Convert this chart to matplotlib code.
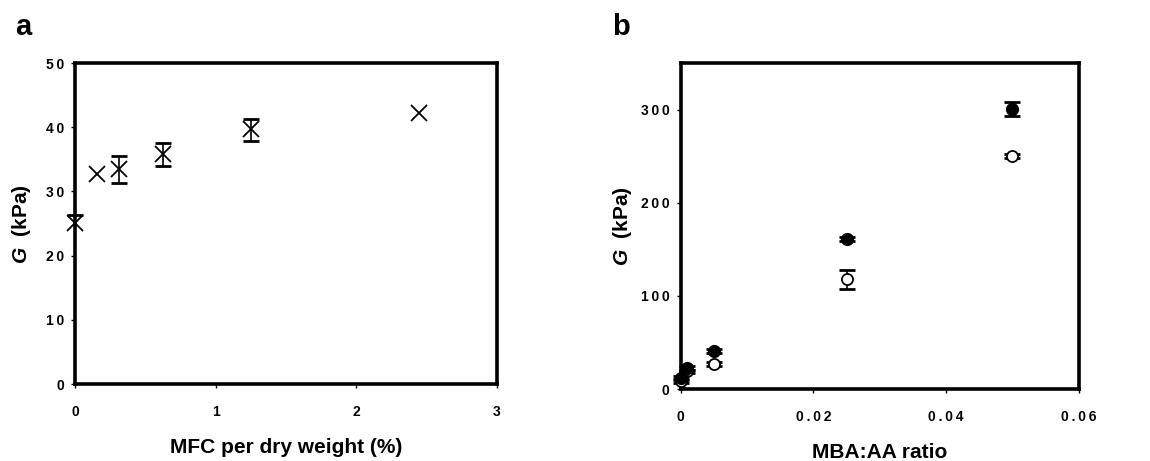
import matplotlib.pyplot as plt

plt.rcParams['font.family'] = ['Liberation Sans', 'DejaVu Sans']
plt.rcParams['font.weight'] = 'bold'
plt.rcParams['mathtext.fontset'] = 'custom'
plt.rcParams['mathtext.it'] = 'Liberation Sans:italic:bold'

# panel a: MFC content
mfc = [0, 0.16, 0.31, 0.625, 1.25, 2.45]
g_mfc = [25.1, 32.8, 33.5, 35.8, 39.7, 42.2]
g_mfc_err_lo = [0, 0, 2.1, 1.9, 1.9, 0]
g_mfc_err_hi = [1.3, 0, 2.0, 1.8, 1.6, 0]

# panel b: crosslinker ratio
ratio = [0, 0.001, 0.005, 0.025, 0.05]
g_filled = [12, 23, 41, 161, 301]
g_filled_err = [2, 2, 2, 2, 7.5]
g_open = [9, 19, 27, 118, 250]
g_open_err = [2, 2, 2, 10, 2]

a_xticks = [0, 1, 2, 3]
a_yticks = [0, 10, 20, 30, 40, 50]
b_xticks = [0, 0.02, 0.04, 0.06]
b_xlabels = ['0', '0.02', '0.04', '0.06']
b_yticks = [0, 100, 200, 300]


def spaced(s):
    # the original tick labels are letter-spaced
    return '\u2009'.join(s)


fig = plt.figure(figsize=(11.5, 4.61), dpi=100)
ax1 = fig.add_axes([0.0652, 0.167, 0.3668, 0.696])
ax2 = fig.add_axes([0.592, 0.156, 0.346, 0.707])


def style_axes(ax):
    for sp in ax.spines.values():
        sp.set_linewidth(2.6)
    ax.tick_params(direction='out', length=3, width=1, labelsize=10)
    ax.tick_params(axis='x', pad=12)
    ax.tick_params(axis='y', pad=5)
    for lab in ax.get_xticklabels() + ax.get_yticklabels():
        lab.set_fontweight('bold')


err_kw = dict(fmt='none', ecolor='black', elinewidth=1.2, capsize=5.5,
              capthick=2, clip_on=False, zorder=2)

# only the points whose error bars show; a one-sided bar hides its lower cap
for x, y, lo, hi in zip(mfc, g_mfc, g_mfc_err_lo, g_mfc_err_hi):
    if lo == 0 and hi == 0:
        continue
    _, caps, _ = ax1.errorbar([x], [y], yerr=[[lo], [hi]], **err_kw)
    if lo == 0:
        caps[0].set_visible(False)
ax1.plot(mfc, g_mfc, 'x', color='black', markersize=11, markeredgewidth=1.3,
         clip_on=False, zorder=3)
ax1.set_xlim(0, 3)
ax1.set_ylim(0, 50)
ax1.set_xticks(a_xticks)
ax1.set_xticklabels([spaced(str(t)) for t in a_xticks])
ax1.set_yticks(a_yticks)
ax1.set_yticklabels([spaced(str(t)) for t in a_yticks])
ax1.set_xlabel('MFC per dry weight (%)', fontsize=15, fontweight='bold', labelpad=14)
ax1.set_ylabel('$G$  (kPa)', fontsize=15, fontweight='bold', labelpad=9)
style_axes(ax1)

ax2.errorbar(ratio, g_open, yerr=g_open_err, **err_kw)
ax2.plot(ratio, g_open, 'o', markerfacecolor='white', markeredgecolor='black',
         markersize=8, markeredgewidth=1.3, clip_on=False, zorder=3)
ax2.errorbar(ratio, g_filled, yerr=g_filled_err, **dict(err_kw, zorder=4))
ax2.plot(ratio, g_filled, 'o', color='black', markersize=8.5,
         clip_on=False, zorder=5)
ax2.set_xlim(0, 0.06)
ax2.set_ylim(0, 350)
ax2.set_xticks(b_xticks)
ax2.set_xticklabels([spaced(s) for s in b_xlabels])
ax2.set_yticks(b_yticks)
ax2.set_yticklabels([spaced(str(t)) for t in b_yticks])
ax2.set_xlabel('MBA:AA ratio', fontsize=15, fontweight='bold', labelpad=14)
ax2.set_ylabel('$G$  (kPa)', fontsize=15, fontweight='bold', labelpad=5)
style_axes(ax2)

fig.text(0.013, 0.925, 'a', fontsize=21, fontweight='bold')
fig.text(0.532, 0.925, 'b', fontsize=21, fontweight='bold')

fig.savefig('out.png', dpi=100)
